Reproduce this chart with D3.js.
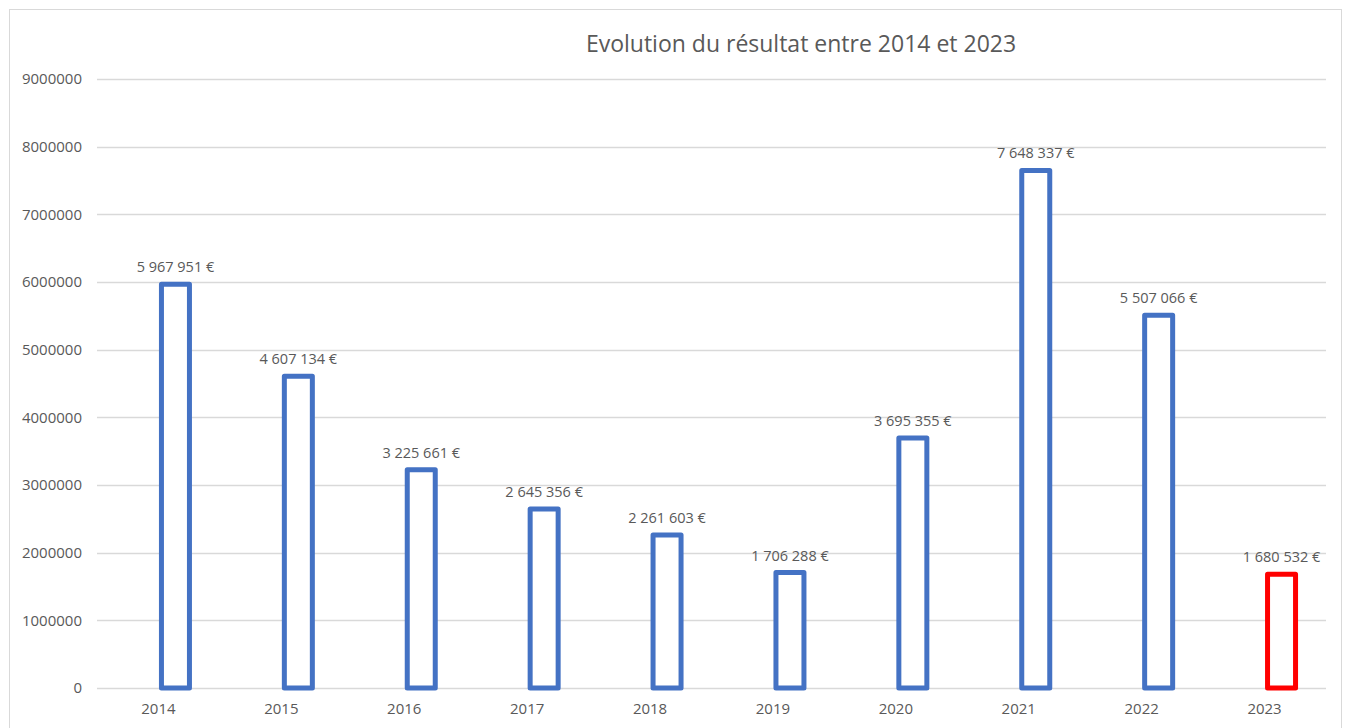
<!DOCTYPE html>
<html>
<head>
<meta charset="utf-8">
<script src="https://cdn.jsdelivr.net/npm/d3@7"></script>
<style>
  body { margin: 0; background: #fff; }
  svg text { font-family: "Open Sans", "Liberation Sans", sans-serif; fill: #595959; }
</style>
</head>
<body>
<div id="chart"></div>
<script>
// data
let years = ["2014", "2015", "2016", "2017", "2018", "2019", "2020", "2021", "2022", "2023"];
let resultats = [5967951, 4607134, 3225661, 2645356, 2261603, 1706288, 3695355, 7648337, 5507066, 1680532];
let yTicks = [0, 1000000, 2000000, 3000000, 4000000, 5000000, 6000000, 7000000, 8000000, 9000000];
let chartTitle = "Evolution du résultat entre 2014 et 2023";

let width = 1351, height = 728;
let margin = {top: 79, right: 25, bottom: 40, left: 97};
let barColor = '#4472C4',
    lastColor = '#FF0000',
    gridColor = '#D9D9D9';

let frLocale = d3.formatLocale({decimal: ",", thousands: " ", grouping: [3], currency: ["", " €"]});
let fmtEuro = frLocale.format("$,");

let svg = d3.select('#chart').append('svg')
    .attr('width', width)
    .attr('height', height);

// chart frame
svg.append('rect')
    .attr('x', 9.5).attr('y', 9.5)
    .attr('width', 1332).attr('height', 740)
    .attr('fill', '#fff')
    .attr('stroke', gridColor);

let x = d3.scaleBand()
    .domain(years)
    .range([margin.left, width - margin.right]);

let y = d3.scaleLinear()
    .domain([0, 9000000])
    .range([688, margin.top]);

// bars sit right of the category centre (clustered look)
let barOffset = 17, barW = 28;

// gridlines
svg.append('g')
    .selectAll('line')
    .data(yTicks)
    .enter().append('line')
    .attr('x1', margin.left).attr('x2', width - margin.right)
    .attr('y1', d => Math.round(y(d)) + 0.5)
    .attr('y2', d => Math.round(y(d)) + 0.5)
    .attr('stroke', gridColor)
    .attr('stroke-width', 1.5);

// y axis labels
let yAxis = d3.axisLeft(y).tickValues(yTicks).tickSize(0).tickPadding(15).tickFormat(d3.format("d"));
svg.append('g')
    .attr('transform', 'translate(' + margin.left + ',0)')
    .call(yAxis)
    .call(g => g.select('.domain').remove())
    .selectAll('text')
    .style('font-size', '15px')
    .attr('fill', '#595959');

// x axis labels
let xAxis = d3.axisBottom(x).tickSize(0).tickPadding(15);
svg.append('g')
    .attr('transform', 'translate(0,688)')
    .call(xAxis)
    .call(g => g.select('.domain').remove())
    .selectAll('text')
    .style('font-size', '15px')
    .attr('fill', '#595959');

// bars
svg.append('g')
    .selectAll('rect')
    .data(resultats)
    .enter().append('rect')
    .attr('x', (d, i) => x(years[i]) + x.bandwidth() / 2 + barOffset - barW / 2)
    .attr('y', d => y(d))
    .attr('width', barW)
    .attr('height', d => y(0) - y(d))
    .attr('fill', '#fff')
    .attr('stroke', (d, i) => i == years.length - 1 ? lastColor : barColor)
    .attr('stroke-width', 5)
    .attr('stroke-linejoin', 'round');

// data labels
svg.append('g')
    .selectAll('text')
    .data(resultats)
    .enter().append('text')
    .attr('x', (d, i) => x(years[i]) + x.bandwidth() / 2 + barOffset)
    .attr('y', d => y(d) - 12)
    .attr('text-anchor', 'middle')
    .style('font-size', '14.5px')
    .text(d => fmtEuro(d));

// title
svg.append('text')
    .attr('x', 801)
    .attr('y', 52)
    .attr('text-anchor', 'middle')
    .style('font-size', '23px')
    .text(chartTitle);
</script>
</body>
</html>
